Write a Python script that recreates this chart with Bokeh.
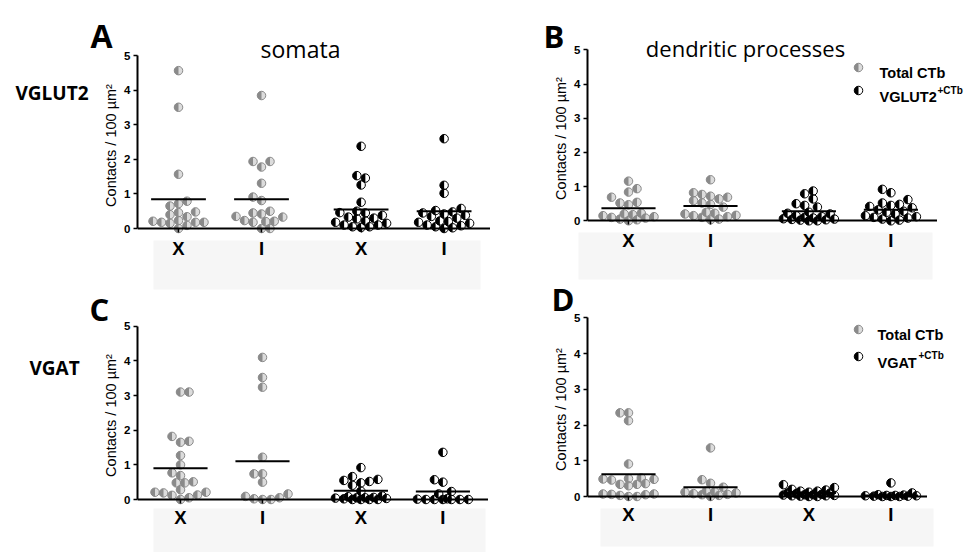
import math
from bokeh.plotting import figure
from bokeh.models import Range1d, FixedTicker, Label, ColumnDataSource
from bokeh.embed import file_html
from bokeh.resources import INLINE

# ---------------- data ----------------
groups = ["X", "I", "X", "I"]
group_series = ["total", "total", "marker", "marker"]
y_ticks = [0, 1, 2, 3, 4, 5]
y_label = "Contacts / 100 µm²"

A_values = [
    [4.57, 3.51, 1.57, 0.79, 0.72, 0.65, 0.48, 0.46, 0.40, 0.34, 0.23, 0.21, 0.18, 0.18, 0.18, 0.15, 0.09, 0.0],
    [3.85, 1.94, 1.94, 1.78, 1.31, 0.91, 0.81, 0.50, 0.45, 0.42, 0.35, 0.33, 0.23, 0.21, 0.20, 0.18, 0.0, 0.0],
    [2.38, 1.53, 1.46, 1.26, 0.76, 0.50, 0.46, 0.45, 0.38, 0.33, 0.30, 0.28, 0.22, 0.18, 0.15, 0.10, 0.10, 0.05, 0.05, 0.03],
    [2.60, 1.25, 1.02, 0.58, 0.52, 0.48, 0.45, 0.42, 0.38, 0.35, 0.30, 0.22, 0.20, 0.18, 0.15, 0.10, 0.08, 0.05, 0.02, 0.0],
]
A_means = [0.85, 0.85, 0.55, 0.50]

B_values = [
    [1.16, 0.94, 0.84, 0.69, 0.54, 0.52, 0.47, 0.22, 0.20, 0.18, 0.15, 0.12, 0.10, 0.08, 0.05, 0.03, 0.0],
    [1.20, 0.82, 0.77, 0.72, 0.69, 0.64, 0.59, 0.52, 0.48, 0.40, 0.25, 0.22, 0.20, 0.16, 0.15, 0.12, 0.10, 0.05, 0.03],
    [0.87, 0.79, 0.64, 0.50, 0.45, 0.40, 0.25, 0.22, 0.20, 0.15, 0.12, 0.10, 0.08, 0.06, 0.05, 0.04, 0.03, 0.02, 0.0, 0.0],
    [0.92, 0.82, 0.62, 0.52, 0.48, 0.45, 0.42, 0.38, 0.32, 0.28, 0.25, 0.20, 0.15, 0.12, 0.10, 0.08, 0.05, 0.02, 0.0],
]
B_means = [0.37, 0.43, 0.28, 0.32]

C_values = [
    [3.10, 3.10, 1.82, 1.68, 1.65, 1.27, 1.00, 0.77, 0.69, 0.51, 0.48, 0.48, 0.28, 0.21, 0.21, 0.19, 0.13, 0.12, 0.05, 0.0],
    [4.10, 3.52, 3.24, 1.22, 0.74, 0.74, 0.50, 0.16, 0.09, 0.05, 0.02, 0.0, 0.0],
    [0.92, 0.66, 0.58, 0.55, 0.52, 0.48, 0.41, 0.24, 0.10, 0.08, 0.06, 0.05, 0.05, 0.04, 0.03, 0.02, 0.0, 0.0, 0.0, 0.0],
    [1.36, 0.57, 0.50, 0.23, 0.16, 0.02, 0.01, 0.0, 0.0, 0.0, 0.0, 0.0, 0.0],
]
C_means = [0.90, 1.10, 0.25, 0.23]

D_values = [
    [2.34, 2.34, 2.12, 0.91, 0.52, 0.50, 0.49, 0.48, 0.46, 0.36, 0.34, 0.34, 0.30, 0.07, 0.07, 0.06, 0.05, 0.03, 0.0, 0.0],
    [1.36, 0.47, 0.37, 0.26, 0.15, 0.13, 0.12, 0.10, 0.08, 0.06, 0.05, 0.03, 0.0],
    [0.33, 0.25, 0.20, 0.18, 0.15, 0.15, 0.12, 0.10, 0.10, 0.08, 0.06, 0.05, 0.05, 0.04, 0.03, 0.02, 0.02, 0.01, 0.0, 0.0],
    [0.38, 0.10, 0.05, 0.04, 0.03, 0.03, 0.02, 0.02, 0.01, 0.01, 0.0, 0.0, 0.0],
]
D_means = [0.62, 0.26, 0.10, 0.03]

panel_letters = ["A", "B", "C", "D"]
column_titles = ["somata", "dendritic processes"]
row_titles = ["VGLUT2", "VGAT"]
legend_B = ["Total CTb", "VGLUT2", "+CTb"]
legend_D = ["Total CTb", "VGAT", "+CTb"]

# ---------------- layout / style ----------------
GROUP_POS = [1.0, 2.0, 3.2, 4.2]
MEAN_HALF = 0.33
DOT = 8.5
STYLE = {
    "total": dict(dark="#8a8a8a", light="#dcdcdc", edge="#8a8a8a"),
    "marker": dict(dark="#000000", light="#ffffff", edge="#000000"),
}
HUMAN = "Open Sans"
ARIAL = "Liberation Sans"
W, H = 977, 552
# page pixel anchors: y-axis x, x-axis right end, group-1 x, px per x unit, y=0 px, y=5 px,
# plus the x tick label standoff and the space kept below the axis for those labels
GEOM = {
    "A": dict(ax=137, xend=490, px1=178, pxx=83.0, py0=228.0, py5=55.3, left=137, so=5, below=27, bb=31),
    "B": dict(ax=587, xend=937, px1=628, pxx=82.0, py0=220.3, py5=49.3, left=97, so=5, below=27, bb=31),
    "C": dict(ax=137, xend=488, px1=180, pxx=82.0, py0=499.0, py5=325.7, left=137, so=3, below=25, bb=28),
    "D": dict(ax=587, xend=927, px1=628, pxx=82.0, py0=496.0, py5=317.3, left=97, so=3, below=25, bb=28),
}
TOP_BORDER = 5


def swarm(vals, xpx, ypx, d, max_off):
    order = sorted(range(len(vals)), key=lambda i: vals[i])
    placed = []
    offs = [0.0] * len(vals)
    step = d / 2.0
    n = int(max_off // step)
    flip = 1
    for i in order:
        y = vals[i] * ypx
        cands = [0.0]
        for k in range(1, n + 1):
            cands += [flip * k * step, -flip * k * step]
        best, best_score = 0.0, -1.0
        for c in cands:
            md = min((math.hypot(c - px, y - py) for px, py in placed), default=1e9)
            if md >= d * 0.92:
                best = c
                break
            if md > best_score:
                best_score, best = md, c
        if best != 0:
            flip = -flip
        placed.append((best, y))
        offs[i] = best / xpx
    return offs


def dots(p, xs, ys, st):
    src = ColumnDataSource(dict(x=xs, y=ys))
    p.scatter("x", "y", source=src, size=DOT, fill_color=st["light"], line_color=None)
    p.wedge("x", "y", source=src, radius=DOT / 2, radius_units="screen",
            start_angle=math.pi / 2, end_angle=3 * math.pi / 2,
            fill_color=st["dark"], line_color=None)
    p.scatter("x", "y", source=src, size=DOT, fill_color=None, line_color=st["edge"], line_width=1)


def panel(key, values, means):
    g = GEOM[key]
    pyy = (g["py0"] - g["py5"]) / 5.0
    fig_left = int(round(g["ax"] - g["left"]))
    fig_top = int(round(g["py5"] - 25))
    width = int(round(g["xend"] - fig_left))
    height = int(round(g["py0"] + g["below"] + g["bb"] - fig_top))
    fl, fr = fig_left + g["left"], fig_left + width
    ft, fb = fig_top + TOP_BORDER, fig_top + height - g["bb"]
    x0 = 1 + (fl - g["px1"]) / g["pxx"]
    x1 = 1 + (fr - g["px1"]) / g["pxx"]
    ytop = (g["py0"] - ft) / pyy
    ybot = (g["py0"] - fb) / pyy

    p = figure(width=width, height=height, output_backend="svg", toolbar_location=None,
               x_range=Range1d(x0, x1), y_range=Range1d(ybot, ytop),
               min_border_left=g["left"], min_border_right=0,
               min_border_top=TOP_BORDER, min_border_bottom=g["bb"])
    p.outline_line_color = None
    p.grid.visible = False
    p.background_fill_alpha = 0
    p.border_fill_alpha = 0
    p.styles = {"position": "absolute", "left": f"{fig_left}px", "top": f"{fig_top}px",
                "z-index": "2"}

    xa = p.xaxis[0]
    xa.fixed_location = 0
    xa.ticker = FixedTicker(ticks=GROUP_POS)
    xa.major_label_overrides = {pos: lab for pos, lab in zip(GROUP_POS, groups)}
    xa.axis_line_width = 2
    xa.axis_line_color = "black"
    xa.major_tick_line_width = 1.5
    xa.major_tick_line_color = "black"
    xa.major_tick_in = 0
    xa.major_tick_out = 4
    xa.minor_tick_line_color = None
    xa.major_label_text_font = ARIAL
    xa.major_label_text_font_style = "bold"
    xa.major_label_text_font_size = "18.5px"
    xa.major_label_text_color = "black"
    xa.major_label_standoff = g["so"]

    ya = p.yaxis[0]
    ya.bounds = (0, 5)
    ya.ticker = FixedTicker(ticks=y_ticks)
    ya.axis_line_width = 2
    ya.axis_line_color = "black"
    ya.major_tick_line_width = 1.5
    ya.major_tick_line_color = "black"
    ya.major_tick_in = 0
    ya.major_tick_out = 4
    ya.minor_tick_line_color = None
    ya.major_label_text_font = ARIAL
    ya.major_label_text_font_style = "bold"
    ya.major_label_text_font_size = "11.5px"
    ya.major_label_text_color = "black"
    ya.major_label_standoff = 3
    ya.axis_label = y_label
    ya.axis_label_text_font = ARIAL
    ya.axis_label_text_font_style = "normal"
    ya.axis_label_text_font_size = "14.5px"
    ya.axis_label_text_color = "black"
    ya.axis_label_standoff = 2

    for gi, vals in enumerate(values):
        offs = swarm(vals, g["pxx"], pyy, DOT, 26)
        xs = [GROUP_POS[gi] + o for o in offs]
        dots(p, xs, vals, STYLE[group_series[gi]])
    p.segment(x0=[x - MEAN_HALF for x in GROUP_POS], x1=[x + MEAN_HALF for x in GROUP_POS],
              y0=means, y1=means, line_color="black", line_width=2)
    return p


pA = panel("A", A_values, A_means)
pB = panel("B", B_values, B_means)
pC = panel("C", C_values, C_means)
pD = panel("D", D_values, D_means)

# ---------------- page layer (page pixel coordinates) ----------------
ov = figure(width=W, height=H, output_backend="svg", toolbar_location=None,
            x_range=Range1d(0, W), y_range=Range1d(H, 0),
            x_axis_location=None, y_axis_location=None,
            min_border_left=0, min_border_right=0, min_border_top=0, min_border_bottom=0)
ov.outline_line_color = None
ov.grid.visible = False
ov.background_fill_color = "white"
ov.border_fill_color = "white"
ov.styles = {"position": "absolute", "left": "0px", "top": "0px", "z-index": "1"}

# faint grey boxes under the category labels
ov.quad(left=[153, 578, 153, 600], right=[480, 932, 485, 933],
        top=[240, 232, 508, 508], bottom=[289, 279, 552, 546],
        fill_color="#f6f6f6", line_color=None)


def text(x, y, s, size, font=HUMAN, style="normal", align="left"):
    ov.add_layout(Label(x=x, y=y, text=s, text_font=font, text_font_size=f"{size}px",
                        text_font_style=style, text_align=align, text_baseline="alphabetic",
                        text_color="black"))


text(90, 35, panel_letters[0], 32, style="bold")
text(543, 35, panel_letters[1], 31, style="bold")
text(89, 308, panel_letters[2], 31, style="bold")
text(551, 298, panel_letters[3], 31, style="bold")
text(300, 48, column_titles[0], 23, align="center")
text(745, 47, column_titles[1], 22, align="center")
text(15, 92, row_titles[0], 19, style="bold")
text(29, 367, row_titles[1], 19, style="bold")


def legend(labels, mx, y1, y2, tx, sup_x, sup_base):
    dots(ov, [mx], [y1], STYLE["total"])
    dots(ov, [mx], [y2], STYLE["marker"])
    text(tx, y1 + 5.5, labels[0], 14.5, font=ARIAL, style="bold")
    text(tx, y2 + 6.5, labels[1], 14.5, font=ARIAL, style="bold")
    text(sup_x, sup_base, labels[2], 10, font=ARIAL, style="bold")


legend(legend_B, 858, 67, 90, 879, 937, 90)
legend(legend_D, 858, 329, 356, 877, 918, 355)

open("out.html", "w").write(file_html([ov, pA, pB, pC, pD], INLINE))
